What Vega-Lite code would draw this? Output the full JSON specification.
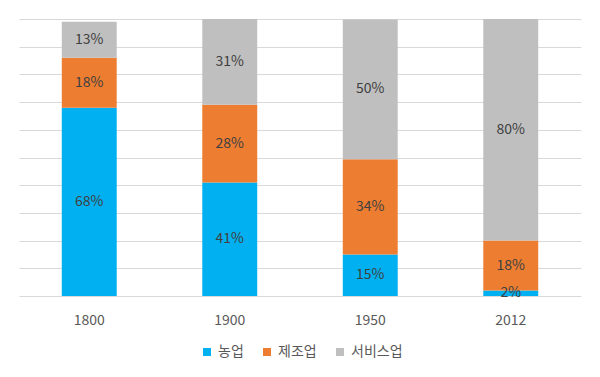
{
  "$schema": "https://vega.github.io/schema/vega-lite/v6.json",
  "width": 562,
  "height": 277,
  "padding": {"left": 19, "top": 19, "right": 19, "bottom": 5},
  "background": "white",
  "config": {
    "font": "Noto Sans CJK KR",
    "view": {"stroke": null},
    "axisY": {"title": null, "labels": false, "ticks": false, "domain": false, "grid": true, "gridColor": "#D9D9D9", "gridWidth": 1}
  },
  "data": {
    "values": [
      {"year": "1800", "sector": "농업", "share": 0.68},
      {"year": "1800", "sector": "제조업", "share": 0.18},
      {"year": "1800", "sector": "서비스업", "share": 0.13},
      {"year": "1900", "sector": "농업", "share": 0.41},
      {"year": "1900", "sector": "제조업", "share": 0.28},
      {"year": "1900", "sector": "서비스업", "share": 0.31},
      {"year": "1950", "sector": "농업", "share": 0.15},
      {"year": "1950", "sector": "제조업", "share": 0.344},
      {"year": "1950", "sector": "서비스업", "share": 0.504},
      {"year": "2012", "sector": "농업", "share": 0.02},
      {"year": "2012", "sector": "제조업", "share": 0.18},
      {"year": "2012", "sector": "서비스업", "share": 0.80}
    ]
  },
  "transform": [
    {"stack": "share", "groupby": ["year"], "as": ["s0", "s1"]}
  ],
  "encoding": {
    "x": {
      "field": "year", "type": "nominal",
      "scale": {"paddingInner": 0.609, "paddingOuter": 0.3045},
      "axis": {"title": null, "labelAngle": 0, "domain": false, "ticks": false, "labelPadding": 17, "labelFontSize": 14, "labelColor": "#595959"}
    }
  },
  "layer": [
    {
      "mark": {"type": "bar"},
      "encoding": {
        "y": {
          "field": "s1", "type": "quantitative",
          "scale": {"domain": [0, 1], "nice": false},
          "axis": {"values": [0,0.1,0.2,0.3,0.4,0.5,0.6,0.7,0.8,0.9,1]}
        },
        "y2": {"field": "s0"},
        "color": {
          "field": "sector", "type": "nominal",
          "scale": {"domain": ["농업", "제조업", "서비스업"], "range": ["#00B0F0", "#ED7D31", "#BFBFBF"]},
          "legend": {"title": null, "orient": "none", "legendX": 181, "legendY": 326, "direction": "horizontal", "symbolType": "square", "symbolSize": 64, "symbolStrokeWidth": 0, "labelFontSize": 14, "labelColor": "#595959", "columnPadding": 16, "labelOffset": 4}
        }
      }
    },
    {
      "transform": [
        {"fold": ["s0", "s1"], "as": ["edge", "pos"]},
        {"aggregate": [{"op": "mean", "field": "pos", "as": "mid"}], "groupby": ["year", "sector", "share"]}
      ],
      "mark": {"type": "text", "fontSize": 14, "color": "#404040", "baseline": "middle"},
      "encoding": {
        "y": {"field": "mid", "type": "quantitative", "axis": {"values": [0,0.1,0.2,0.3,0.4,0.5,0.6,0.7,0.8,0.9,1]}},
        "text": {"field": "share", "type": "quantitative", "format": ".0%"}
      }
    }
  ]
}
